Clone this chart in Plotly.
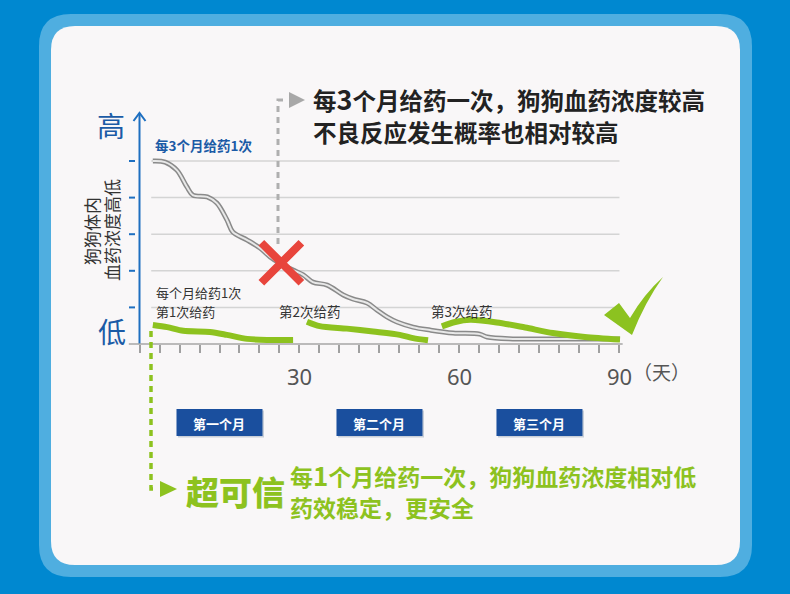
import plotly.graph_objects as go

W, H = 790, 594

# ---------------- data ----------------
# x = day, y = relative blood concentration level (0..5 grid units)
quarterly_days = [2.5, 4.8, 7.0, 8.9, 10.0, 12.7, 14.5, 16.4, 17.5, 20.2, 22.6, 24.5, 26.3,
                  28.8, 30.7, 32.5, 35.2, 38.2, 40.0, 42.7, 44.5, 46.4, 48.3, 51.3, 54.5,
                  58.8, 63.8, 65.2, 70.0, 76.4, 90.1]
quarterly_level = [5.0, 4.97, 4.75, 4.29, 4.07, 4.02, 3.85, 3.39, 3.06, 2.84, 2.62, 2.38, 2.21,
                   2.02, 1.89, 1.69, 1.61, 1.34, 1.23, 1.12, 0.93, 0.74, 0.60, 0.46, 0.38,
                   0.30, 0.27, 0.19, 0.14, 0.14, 0.14]

dose1_days = [2.5, 5.2, 8.2, 13.2, 16.4, 20.2, 23.9, 28.8]
dose1_level = [0.52, 0.46, 0.36, 0.33, 0.25, 0.14, 0.11, 0.11]
dose2_days = [31.4, 33.8, 38.9, 43.8, 48.8, 51.3, 54.1]
dose2_level = [0.61, 0.49, 0.42, 0.34, 0.25, 0.16, 0.10]
dose3_days = [56.7, 59.2, 62.0, 67.0, 72.3, 77.5, 83.5, 90.1]
dose3_level = [0.48, 0.60, 0.66, 0.59, 0.45, 0.30, 0.19, 0.12]

tick_days = [i * 3.75 for i in range(25)]
label_days = [30, 60, 90]
grid_levels = [1, 2, 3, 4, 5]
month_labels = ["第一个月", "第二个月", "第三个月"]
month_centers = [15, 45, 75]
dose_labels = ["第2次给药", "第3次给药"]
dose_label_days = [32, 60.5]
cross_day, cross_level = 26.6, 2.22

# ---------------- pixel <-> axis mapping ----------------
X0PX, XS = 139.5, 5.333      # day 0 pixel, px per day
Y0PX, YS = 344.0, 36.6       # level 0 pixel, px per level
xr = [(0 - X0PX) / XS, (W - X0PX) / XS]
yr = [(Y0PX - H) / YS, Y0PX / YS]


def px(x):
    return x / W


def py(y):
    return 1 - y / H


def rr_path(x0, y0, x1, y1, r):
    rx, ry = r / W, r / H
    a, b, c, d = px(x0), py(y0), px(x1), py(y1)  # b top, d bottom
    return (f"M{a+rx},{b} L{c-rx},{b} Q{c},{b} {c},{b-ry} L{c},{d+ry} Q{c},{d} {c-rx},{d} "
            f"L{a+rx},{d} Q{a},{d} {a},{d+ry} L{a},{b-ry} Q{a},{b} {a+rx},{b} Z")


GREEN = "#8DC21F"
BLUE_TXT = "#1B5BA6"
CJK = "Noto Sans CJK SC"

fig = go.Figure()

# gray (every 3 months) curve: dark outline + light core
fig.add_trace(go.Scatter(x=quarterly_days, y=quarterly_level, mode="lines",
                         line=dict(color="#8A8A8A", width=5, shape="spline", smoothing=1.0),
                         hoverinfo="skip", showlegend=False))
fig.add_trace(go.Scatter(x=quarterly_days, y=quarterly_level, mode="lines",
                         line=dict(color="#E8E8E8", width=2, shape="spline", smoothing=1.0),
                         hoverinfo="skip", showlegend=False))
for dx, dy in [(dose1_days, dose1_level), (dose2_days, dose2_level), (dose3_days, dose3_level)]:
    fig.add_trace(go.Scatter(x=dx, y=dy, mode="lines",
                             line=dict(color=GREEN, width=6, shape="spline", smoothing=0.8),
                             hoverinfo="skip", showlegend=False))

# red cross on the gray curve
fig.add_trace(go.Scatter(x=[cross_day], y=[cross_level], mode="markers",
                         marker=dict(symbol="x-thin", size=40,
                                     line=dict(color="#E8453C", width=8)),
                         hoverinfo="skip", showlegend=False))

shapes = []
# background frame and white card
shapes.append(dict(type="path", path=rr_path(39, 14, 752, 577, 32), xref="paper", yref="paper",
                   fillcolor="#4FAEE0", line=dict(width=0), layer="below"))
shapes.append(dict(type="path", path=rr_path(51, 26, 740, 565, 24), xref="paper", yref="paper",
                   fillcolor="#F9F7F8", line=dict(width=0), layer="below"))
# horizontal grid lines
for g in grid_levels:
    shapes.append(dict(type="line", xref="x", yref="y", x0=2.2, x1=90, y0=g, y1=g,
                       line=dict(color="#D4D4D4", width=1.5), layer="below"))
    shapes.append(dict(type="line", xref="paper", yref="y", x0=px(129), x1=px(135), y0=g, y1=g,
                       line=dict(color="#1E6FC0", width=2), layer="below"))
# x axis line
shapes.append(dict(type="line", xref="x", yref="y", x0=-2, x1=90.6, y0=0, y1=0,
                   line=dict(color="#A6A6A6", width=1.5), layer="below"))
# y axis line with arrow
shapes.append(dict(type="line", xref="x", yref="paper", x0=0, x1=0, y0=py(344), y1=py(113),
                   line=dict(color="#1E6FC0", width=2), layer="below"))
shapes.append(dict(type="path", xref="paper", yref="paper",
                   path=f"M{px(133.5)},{py(121)} L{px(139.5)},{py(113)} L{px(145.5)},{py(121)}",
                   line=dict(color="#1E6FC0", width=2)))
# gray dashed leader to top text
shapes.append(dict(type="path", xref="paper", yref="paper",
                   path=f"M{px(278)},{py(244)} L{px(278)},{py(100)} L{px(284)},{py(100)}",
                   line=dict(color="#AFAFAF", width=3, dash="6px,5px")))
shapes.append(dict(type="path", xref="paper", yref="paper",
                   path=f"M{px(289)},{py(92)} L{px(305)},{py(100)} L{px(289)},{py(108)} Z",
                   fillcolor="#A8A8A8", line=dict(width=0)))
# green dotted leader to bottom text
shapes.append(dict(type="path", xref="paper", yref="paper",
                   path=f"M{px(151)},{py(331)} L{px(151)},{py(489)} L{px(158)},{py(489)}",
                   line=dict(color=GREEN, width=3.5, dash="6px,5px")))
shapes.append(dict(type="path", xref="paper", yref="paper",
                   path=f"M{px(160)},{py(481)} L{px(177)},{py(489)} L{px(160)},{py(497)} Z",
                   fillcolor=GREEN, line=dict(width=0)))
# green check mark
shapes.append(dict(type="path", xref="paper", yref="paper",
                   path=(f"M{px(604)},{py(315)} L{px(619)},{py(303)} L{px(630)},{py(318)} "
                         f"Q{px(644)},{py(294)} {px(663)},{py(277)} "
                         f"Q{px(645)},{py(302)} {px(632)},{py(335)} Z"),
                   fillcolor="#8CC220", line=dict(width=0)))
# month boxes
for c in month_centers:
    xc = X0PX + c * XS
    shapes.append(dict(type="rect", xref="paper", yref="paper",
                       x0=px(xc - 43 + 1.5), x1=px(xc + 43 + 1.5), y0=py(409 + 1.5), y1=py(436 + 1.5),
                       fillcolor="#C9CFD8", line=dict(width=0), layer="below"))
    shapes.append(dict(type="rect", xref="paper", yref="paper",
                       x0=px(xc - 43), x1=px(xc + 43), y0=py(409), y1=py(436),
                       fillcolor="#1A4F9E", line=dict(width=0)))

ann = []


def A(text, x, y, size, color, xanchor="left", weight="normal", angle=0, family=CJK):
    ann.append(dict(text=text, x=px(x), y=py(y), xref="paper", yref="paper",
                    xanchor=xanchor, yanchor="middle", showarrow=False, textangle=angle,
                    font=dict(size=size, color=color, family=family, weight=weight)))


A("高", 111, 125, 28, BLUE_TXT, "center")
A("低", 112, 331, 28, BLUE_TXT, "center")
A("狗狗体内", 92, 231, 17, "#333333", "center", angle=-90)
A("血药浓度高低", 111, 230, 17, "#333333", "center", angle=-90)
A("每3个月给药1次", 153, 145, 13.5, BLUE_TXT, weight="bold")
A("每个月给药1次", 154, 292, 13, "#333333")
A("第1次给药", 154, 311, 13, "#333333")
for t, d in zip(dose_labels, dose_label_days):
    A(t, X0PX + d * XS, 311, 13.5, "#333333", "center")
A("（天）", 661, 371, 19, "#555555", "center")
A("每<span style='font-size:27px'>3</span>个月给药一次，狗狗血药浓度较高", 311, 98, 23.5, "#222222",
  weight="bold")
A("不良反应发生概率也相对较高", 311, 132, 23.5, "#222222", weight="bold")
A("超可信", 184, 491, 33, GREEN, weight=900)
A("每<span style='font-size:26px'>1</span>个月给药一次，狗狗血药浓度相对低", 288, 474, 23, GREEN,
  weight="bold")
A("药效稳定，更安全", 288, 507, 23, GREEN, weight="bold")
for t, c in zip(month_labels, month_centers):
    A(t, X0PX + c * XS, 423, 13, "#FFFFFF", "center", weight="bold")

ticktext = [str(int(d)) if any(abs(d - l) < 1e-6 for l in label_days) else "" for d in tick_days]

fig.update_layout(
    width=W, height=H, autosize=False,
    margin=dict(l=0, r=0, t=0, b=0, pad=0),
    paper_bgcolor="#0088D0", plot_bgcolor="rgba(0,0,0,0)",
    showlegend=False,
    xaxis=dict(range=xr, domain=[0, 1], anchor="free", position=py(344),
               showgrid=False, zeroline=False, showline=False,
               tickmode="array", tickvals=tick_days, ticktext=ticktext,
               ticks="outside", ticklen=8, tickwidth=1.5, tickcolor="#A0A0A0",
               ticklabelstandoff=6,
               tickfont=dict(size=22, color="#555555", family="Noto Sans")),
    yaxis=dict(range=yr, domain=[0, 1], visible=False, showgrid=False, zeroline=False),
    shapes=shapes, annotations=ann,
)

fig.write_html("out.html")
